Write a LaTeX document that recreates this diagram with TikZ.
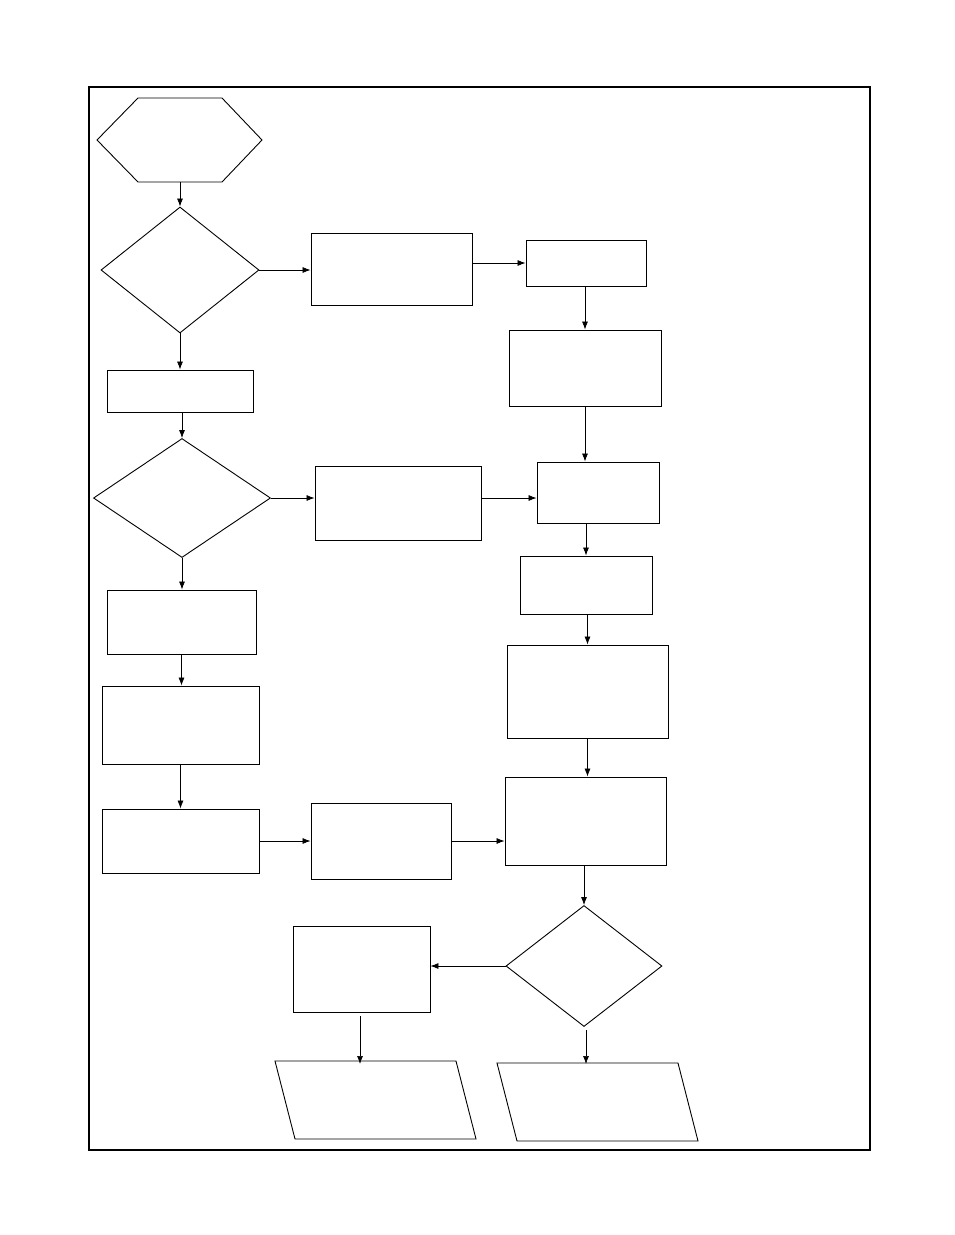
\documentclass[tikz,border=0pt]{standalone}
\usetikzlibrary{shapes.geometric,arrows.meta}
\begin{document}
\begin{tikzpicture}[x=1pt,y=-1pt,
  box/.style={draw,rectangle,inner sep=0pt,line width=0.9pt},
  dia/.style={draw,diamond,inner sep=0pt,line width=0.9pt},
  arr/.style={-{Latex[length=8pt,width=6pt]},line width=0.7pt}]
\useasboundingbox (0,0) rectangle (954,1235);
\draw[line width=1.6pt] (89,87) rectangle (870,1150);
% hexagon
\draw[line width=0.9pt] (97,140)--(138,98)--(222,98)--(262,140)--(222,182)--(138,182)--cycle;
\coordinate (hex) at (180,182);
\newcommand{\bx}[5]{\node[box,minimum width={#4-#2},minimum height={#5-#3}] (#1) at ({(#2+#4)/2},{(#3+#5)/2}) {};}
\node[dia,minimum width=158,minimum height=126] (d1) at (180,270) {};
\node[dia,minimum width=177,minimum height=119] (d2) at (182,498) {};
\node[dia,minimum width=156,minimum height=121] (d3) at (584,966) {};
\bx{A}{311}{233}{472}{305}
\bx{B}{526}{240}{646}{286}
\bx{C}{509}{330}{661}{406}
\bx{D}{107}{370}{253}{412}
\bx{E}{315}{466}{481}{540}
\bx{F}{537}{462}{659}{523}
\bx{G}{520}{556}{652}{614}
\bx{H}{507}{645}{668}{738}
\bx{I}{107}{590}{256}{654}
\bx{J}{102}{686}{259}{764}
\bx{K}{102}{809}{259}{873}
\bx{L}{311}{803}{451}{879}
\bx{M}{505}{777}{666}{865}
\bx{N}{293}{926}{430}{1012}
\draw[line width=0.9pt] (275,1061)--(456,1061)--(476,1139)--(295,1139)--cycle;
\draw[line width=0.9pt] (497,1063)--(678,1063)--(698,1141)--(517,1141)--cycle;
\coordinate (p1) at (360,1064);
\coordinate (p2) at (586,1064);
\coordinate (nb) at (360,1016);
\coordinate (d3b) at (586,1030);
\draw[arr] (hex) -- (d1.north);
\draw[arr] (d1.east) -- (d1.east -| A.west);
\draw[arr] (A.east |- B.west) -- (B.west);
\draw[arr] (B.south -| C.north) -- (C.north);
\draw[arr] (d1.south) -- (D.north);
\draw[arr] (D.south -| d2.north) -- (d2.north);
\draw[arr] (C.south) -- (C.south |- F.north);
\draw[arr] (d2.east) -- (d2.east -| E.west);
\draw[arr] ([yshift=5pt]E.east) -- ([yshift=5pt]E.east -| F.west);
\draw[arr] (F.south -| G.north) -- (G.north);
\draw[arr] (d2.south) -- (d2.south |- I.north);
\draw[arr] (G.south -| H.north) -- (H.north);
\draw[arr] (I.south) -- (I.south |- J.north);
\draw[arr] (H.south) -- (H.south |- M.north);
\draw[arr] (J.south) -- (K.north);
\draw[arr] (K.east) -- (K.east -| L.west);
\draw[arr] (L.east) -- (L.east -| M.west);
\draw[arr] (M.south -| d3.north) -- (d3.north);
\draw[arr] (d3.west) -- (d3.west -| N.east);
\draw[arr] (nb) -- (p1);
\draw[arr] (d3b) -- (p2);
\end{tikzpicture}
\end{document}
